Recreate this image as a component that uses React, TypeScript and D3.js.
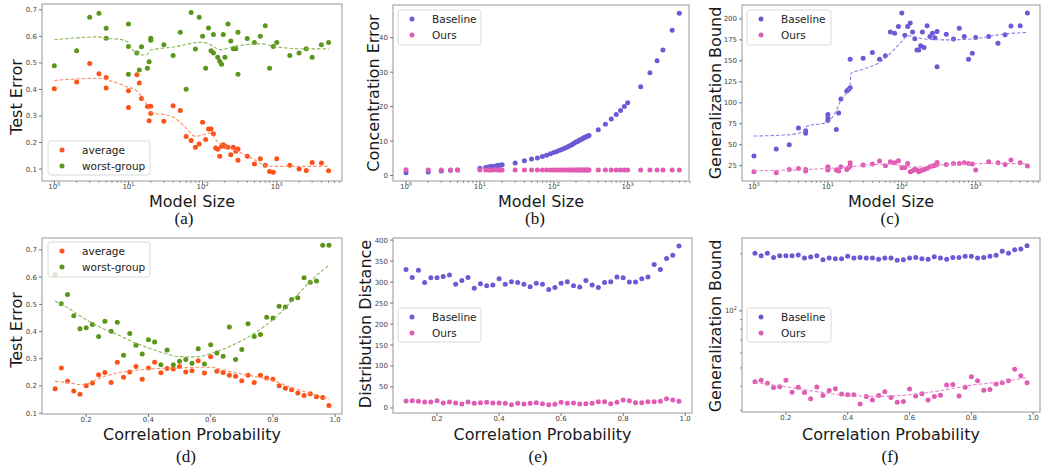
import React from 'react';
import * as d3 from 'd3';

const ORANGE = '#fc521a';
const GREEN = '#5a961a';
const BLUE = '#6a5ad6';
const PINK = '#e05cb4';
const ORANGE_LINE = '#ff8c5e';
const GREEN_LINE = '#86b651';
const BLUE_LINE = '#8c7ee6';
const PINK_LINE = '#e884c8';

const modelSizeTicks = [1, 10, 100, 1000];
const probTicks = [0.2, 0.4, 0.6, 0.8, 1.0];

// (a) test error vs model size
const aAvgX = [1, 2, 3, 4, 5, 5, 10, 10, 13, 14, 15, 18, 19, 20, 20, 30, 40, 50, 60, 70, 80, 90, 100, 110, 120, 130, 140, 150, 160, 170, 180, 190, 200, 220, 240, 260, 280, 300, 300, 400, 500, 600, 700, 800, 900, 1000, 1500, 2000, 2500, 3000, 4000, 5000];
const aAvgY = [0.403, 0.428, 0.498, 0.459, 0.445, 0.405, 0.395, 0.332, 0.455, 0.424, 0.366, 0.336, 0.282, 0.337, 0.309, 0.280, 0.339, 0.321, 0.223, 0.208, 0.182, 0.194, 0.276, 0.211, 0.251, 0.251, 0.233, 0.179, 0.175, 0.148, 0.186, 0.192, 0.186, 0.182, 0.154, 0.182, 0.167, 0.176, 0.133, 0.148, 0.119, 0.139, 0.114, 0.091, 0.088, 0.139, 0.114, 0.100, 0.095, 0.125, 0.123, 0.094];
const aWorstX = [1, 2, 3, 4, 5, 5, 10, 10, 10, 13, 14, 15, 18, 19, 20, 20, 30, 40, 50, 60, 70, 80, 90, 100, 110, 120, 130, 140, 140, 160, 170, 180, 190, 200, 220, 240, 260, 280, 300, 300, 400, 500, 600, 700, 800, 900, 1000, 1500, 2000, 2500, 3000, 4000, 5000];
const aWorstY = [0.489, 0.546, 0.672, 0.687, 0.631, 0.593, 0.647, 0.562, 0.457, 0.537, 0.473, 0.561, 0.480, 0.504, 0.593, 0.585, 0.568, 0.528, 0.616, 0.401, 0.690, 0.552, 0.672, 0.600, 0.480, 0.632, 0.546, 0.607, 0.537, 0.521, 0.506, 0.495, 0.607, 0.521, 0.647, 0.583, 0.553, 0.553, 0.616, 0.457, 0.592, 0.577, 0.600, 0.640, 0.480, 0.562, 0.577, 0.528, 0.537, 0.553, 0.521, 0.568, 0.577];
const aAvgTrendX = [1, 4, 5, 7, 10, 12, 15, 18, 20, 30, 40, 60, 80, 100, 130, 150, 200, 300, 500, 700, 1000, 5000];
const aAvgTrendY = [0.434, 0.442, 0.437, 0.424, 0.408, 0.401, 0.374, 0.339, 0.314, 0.305, 0.296, 0.255, 0.223, 0.229, 0.236, 0.211, 0.186, 0.167, 0.135, 0.114, 0.110, 0.110];
const aWorstTrendX = [1, 4, 5, 7, 10, 11, 13, 15, 18, 20, 40, 100, 130, 170, 300, 600, 1000, 2500, 5000];
const aWorstTrendY = [0.587, 0.598, 0.592, 0.590, 0.578, 0.555, 0.537, 0.530, 0.532, 0.548, 0.560, 0.578, 0.567, 0.550, 0.565, 0.572, 0.560, 0.553, 0.553];

// (b) concentration error vs model size
const bSizes = [1, 2, 3, 4, 5, 10, 12, 13, 14, 15, 17, 18, 19, 20, 30, 40, 50, 60, 70, 80, 90, 100, 110, 120, 130, 140, 150, 160, 170, 180, 190, 200, 210, 220, 230, 240, 250, 260, 270, 280, 290, 300, 400, 500, 600, 700, 800, 900, 1000, 1500, 2000, 2500, 3000, 4000, 5000];
const bBaseline = [0.8, 1.0, 1.3, 1.5, 1.6, 2.1, 2.3, 2.5, 2.6, 2.7, 2.9, 3.0, 3.0, 3.1, 3.6, 4.3, 4.8, 5.1, 5.5, 5.9, 6.3, 6.7, 7.0, 7.3, 7.6, 7.9, 8.2, 8.5, 8.8, 9.1, 9.4, 9.7, 9.9, 10.2, 10.4, 10.6, 10.8, 11.0, 11.2, 11.35, 11.5, 11.6, 13.3, 14.9, 16.4, 17.7, 18.9, 20.0, 21.1, 25.8, 29.8, 33.3, 36.4, 42.2, 47.1];
const bOurs = [1.7, 1.6, 1.6, 1.6, 1.6, 1.6, 1.6, 1.6, 1.6, 1.6, 1.6, 1.6, 1.6, 1.6, 1.6, 1.6, 1.6, 1.6, 1.6, 1.6, 1.6, 1.6, 1.6, 1.6, 1.6, 1.6, 1.6, 1.6, 1.6, 1.6, 1.6, 1.6, 1.6, 1.6, 1.6, 1.6, 1.6, 1.6, 1.6, 1.6, 1.6, 1.6, 1.6, 1.6, 1.6, 1.6, 1.6, 1.6, 1.6, 1.6, 1.6, 1.6, 1.6, 1.6, 1.6];

// (c) generalization bound vs model size
const cSizes = [1, 2, 3, 4, 5, 5, 10, 10, 10, 13, 14, 15, 18, 19, 20, 20, 30, 40, 50, 60, 70, 80, 90, 100, 110, 120, 130, 140, 150, 160, 170, 180, 190, 200, 220, 240, 260, 280, 300, 300, 400, 500, 600, 700, 800, 900, 1000, 1500, 2000, 2500, 3000, 4000, 5000];
const cBaseline = [36.5, 45, 50, 70, 66.6, 63.6, 86, 82, 79, 68.3, 87.8, 104.5, 114, 116, 118, 152, 153, 160, 152, 156, 184.5, 183, 191, 207, 180.5, 191, 195, 184.5, 176.5, 163, 163, 168, 184.5, 166, 192, 179, 183, 177.7, 185, 143, 181.7, 176, 189, 179, 152, 159, 178, 179, 171, 181, 191.6, 192, 207];
const cOurs = [17.8, 16.6, 20.6, 21.8, 20.6, 18.6, 23.8, 19.8, 21.5, 19.8, 18.6, 23.8, 20.6, 22.6, 24.6, 28.6, 25.8, 27, 30.5, 25, 29.8, 28.6, 31, 22.6, 23, 27.8, 17.8, 19, 21, 19.8, 17.8, 19, 19.8, 20.6, 21.8, 23.8, 24.6, 25.4, 26.6, 29, 26.6, 27.8, 27.8, 28.6, 27.8, 27, 19.8, 29.8, 28.6, 26.6, 31.7, 28.6, 24.6];
const cBaseTrendX = [1, 3, 4.8, 5.2, 10, 13, 15, 18, 19.9, 20.5, 30, 50, 100, 120, 200, 400, 1000, 2000, 5000];
const cBaseTrendY = [60.4, 62, 66, 72, 77, 91, 103, 112, 119, 135, 140, 148, 173, 180, 176, 175, 176.5, 181, 184];
const cOursTrendX = [1, 10, 20, 50, 100, 130, 200, 400, 1000, 2000, 5000];
const cOursTrendY = [19, 21.8, 23.8, 26.6, 25.5, 23.5, 23.8, 26.6, 27.4, 27.8, 27];

// (d)-(f) vs correlation probability
const corrProb = [0.10, 0.12, 0.14, 0.16, 0.18, 0.20, 0.22, 0.24, 0.26, 0.28, 0.30, 0.32, 0.34, 0.36, 0.38, 0.40, 0.42, 0.44, 0.46, 0.48, 0.50, 0.52, 0.54, 0.56, 0.58, 0.60, 0.62, 0.64, 0.66, 0.68, 0.70, 0.72, 0.74, 0.76, 0.78, 0.80, 0.82, 0.84, 0.86, 0.88, 0.90, 0.92, 0.94, 0.96, 0.98];
const dAvg = [0.190, 0.266, 0.217, 0.182, 0.170, 0.201, 0.211, 0.241, 0.250, 0.213, 0.287, 0.232, 0.251, 0.272, 0.225, 0.266, 0.287, 0.249, 0.264, 0.262, 0.272, 0.251, 0.256, 0.293, 0.248, 0.307, 0.254, 0.250, 0.239, 0.236, 0.219, 0.239, 0.213, 0.239, 0.229, 0.225, 0.201, 0.192, 0.186, 0.174, 0.165, 0.171, 0.160, 0.158, 0.128];
const dWorst = [0.610, 0.502, 0.536, 0.458, 0.410, 0.414, 0.426, 0.382, 0.438, 0.401, 0.434, 0.313, 0.393, 0.350, 0.318, 0.370, 0.362, 0.278, 0.332, 0.278, 0.291, 0.297, 0.284, 0.337, 0.281, 0.352, 0.321, 0.309, 0.417, 0.297, 0.334, 0.429, 0.382, 0.389, 0.453, 0.450, 0.493, 0.490, 0.518, 0.524, 0.598, 0.581, 0.586, 0.717, 0.717];
const dTrendX = [0.10, 0.15, 0.18, 0.20, 0.25, 0.30, 0.35, 0.40, 0.45, 0.50, 0.55, 0.60, 0.65, 0.70, 0.75, 0.80, 0.85, 0.90, 0.95, 0.98];
const dAvgTrend = [0.217, 0.211, 0.205, 0.207, 0.232, 0.248, 0.256, 0.262, 0.265, 0.266, 0.269, 0.269, 0.256, 0.244, 0.233, 0.220, 0.198, 0.180, 0.161, 0.149];
const dWorstTrend = [0.512, 0.481, 0.458, 0.444, 0.413, 0.389, 0.362, 0.340, 0.321, 0.308, 0.307, 0.319, 0.340, 0.367, 0.401, 0.444, 0.500, 0.561, 0.616, 0.643];

const eBaseline = [330, 311, 328, 299, 310, 310, 313, 317, 295, 304, 311, 285, 296, 291, 293, 308, 295, 301, 299, 295, 289, 297, 295, 282, 287, 297, 301, 291, 288, 304, 293, 287, 299, 301, 312, 310, 300, 300, 308, 312, 342, 330, 356, 364, 386];
const eOurs = [16.6, 17.4, 15.8, 14.2, 14.2, 17.4, 11.8, 14.2, 11.8, 9.5, 14.2, 11.0, 12.6, 13.4, 11.8, 11.8, 11.0, 7.9, 11.0, 9.5, 11.0, 12.6, 10.3, 7.9, 8.7, 13.4, 11.0, 11.8, 9.5, 10.3, 11.0, 15.0, 15.0, 10.3, 13.4, 18.9, 17.4, 12.6, 12.6, 15.0, 15.0, 15.8, 22.1, 18.9, 15.8];

const fBaseline = [201, 195, 201, 191, 195, 195, 195, 197, 190, 192, 195, 186, 190, 188, 188, 194, 190, 191, 190, 190, 187, 190, 190, 185, 186, 190, 191, 188, 187, 193, 190, 187, 191, 191, 194, 194, 190, 191, 194, 196, 206, 201, 210, 212, 220];
const fOurs = [42.3, 43.1, 41.5, 39.4, 39.8, 43.1, 37.2, 39.6, 37.1, 34.4, 39.7, 35.8, 38.0, 38.9, 36.5, 36.1, 36.1, 32.3, 35.4, 33.9, 35.8, 37.5, 34.9, 33.0, 33.3, 38.7, 35.6, 36.6, 33.9, 35.4, 35.9, 40.6, 40.9, 35.6, 39.6, 44.9, 42.8, 38.2, 38.5, 41.1, 41.8, 42.8, 49.2, 45.5, 41.8];
const fTrendX = [0.10, 0.20, 0.30, 0.40, 0.50, 0.60, 0.70, 0.80, 0.90, 0.98];
const fOursTrend = [41.8, 39.8, 37.5, 35.8, 35.4, 36.1, 38.0, 40.6, 42.3, 44.5];

const FONT = "'DejaVu Sans', sans-serif";
const SERIF = "'Liberation Serif', 'DejaVu Serif', serif";

type Series = { x: number[]; y: number[]; color: string; kind: 'dots' | 'trend' };
type LegendItem = { label: string; color: string };
type PanelCfg = {
  box: { l: number; r: number; t: number; b: number };
  xLog: boolean;
  xDomain: [number, number];
  yLog?: boolean;
  yDomain: [number, number];
  xTicks: number[];
  yTicks: number[];
  yMinor?: number[];
  yFmt: (v: number) => string;
  xLabel: string;
  xLabelY: number;
  yLabel: string;
  yLabelAt: [number, number];
  caption: string;
  captionAt: [number, number];
  series: Series[];
  legend: { x: number; y: number; w: number; h: number; items: LegendItem[] };
};

function pow10(e: number) {
  return Math.pow(10, e);
}

function Panel({ cfg }: { cfg: PanelCfg }) {
  const { box } = cfg;
  const x = cfg.xLog
    ? d3.scaleLog().domain(cfg.xDomain).range([box.l, box.r])
    : d3.scaleLinear().domain(cfg.xDomain).range([box.l, box.r]);
  const y = cfg.yLog
    ? d3.scaleLog().domain(cfg.yDomain).range([box.b, box.t])
    : d3.scaleLinear().domain(cfg.yDomain).range([box.b, box.t]);
  const line = d3
    .line<[number, number]>()
    .x((d) => x(d[0]))
    .y((d) => y(d[1]))
    .curve(d3.curveMonotoneX);
  const cx = (box.l + box.r) / 2;
  const tickColor = '#555';
  const labelColor = '#444';

  return (
    <g>
      {cfg.series
        .filter((s) => s.kind === 'dots')
        .map((s, si) => (
          <g key={'d' + si} fill={s.color}>
            {s.x.map((xv, i) => (
              <circle key={i} cx={x(xv)} cy={y(s.y[i])} r={2.5} />
            ))}
          </g>
        ))}
      {cfg.series
        .filter((s) => s.kind === 'trend')
        .map((s, si) => (
          <path
            key={'t' + si}
            d={line(s.x.map((xv, i) => [xv, s.y[i]] as [number, number])) || ''}
            fill="none"
            stroke={s.color}
            strokeWidth={1.1}
            strokeDasharray="3.5,2"
          />
        ))}
      <rect x={box.l} y={box.t} width={box.r - box.l} height={box.b - box.t} fill="none" stroke="#a8a8a8" strokeWidth={1.2} />
      {cfg.xTicks.map((t) => (
        <g key={'xt' + t}>
          <line x1={x(t)} x2={x(t)} y1={box.b} y2={box.b + 3} stroke={tickColor} strokeWidth={0.8} />
          {cfg.xLog ? (
            <text x={x(t)} y={box.b + 8} fontSize={7} fill={labelColor} textAnchor="middle" fontFamily={FONT}>
              10
              <tspan dy={-3} fontSize={5}>
                {Math.round(Math.log10(t))}
              </tspan>
            </text>
          ) : (
            <text x={x(t)} y={box.b + 7.5} fontSize={7} fill={labelColor} textAnchor="middle" fontFamily={FONT}>
              {d3.format('.1f')(t)}
            </text>
          )}
        </g>
      ))}
      {cfg.xLog &&
        [2, 3, 4, 5, 6, 7, 8, 9, 20, 30, 40, 50, 60, 70, 80, 90, 200, 300, 400, 500, 600, 700, 800, 900, 2000, 3000, 4000, 5000, 6000, 7000].map((t) => (
          <line key={'xm' + t} x1={x(t)} x2={x(t)} y1={box.b} y2={box.b + 2} stroke={tickColor} strokeWidth={0.6} />
        ))}
      {cfg.yTicks.map((t) => (
        <g key={'yt' + t}>
          <line x1={box.l - 3} x2={box.l} y1={y(t)} y2={y(t)} stroke={tickColor} strokeWidth={0.8} />
          {cfg.yLog ? (
            <text x={box.l - 5} y={y(t) + 2.5} fontSize={7} fill={labelColor} textAnchor="end" fontFamily={FONT}>
              10
              <tspan dy={-3} fontSize={5}>
                {Math.round(Math.log10(t))}
              </tspan>
            </text>
          ) : (
            <text x={box.l - 5} y={y(t) + 2.5} fontSize={7} fill={labelColor} textAnchor="end" fontFamily={FONT}>
              {cfg.yFmt(t)}
            </text>
          )}
        </g>
      ))}
      {(cfg.yMinor || []).map((t) => (
        <line key={'ym' + t} x1={box.l - 2} x2={box.l} y1={y(t)} y2={y(t)} stroke={tickColor} strokeWidth={0.6} />
      ))}
      <text x={cx} y={cfg.xLabelY} fontSize={16} fill="#1a1a1a" textAnchor="middle" fontFamily={FONT}>
        {cfg.xLabel}
      </text>
      <text
        transform={`translate(${cfg.yLabelAt[0]},${cfg.yLabelAt[1]}) rotate(-90)`}
        fontSize={16}
        fill="#1a1a1a"
        textAnchor="middle"
        fontFamily={FONT}
      >
        {cfg.yLabel}
      </text>
      <text x={cfg.captionAt[0]} y={cfg.captionAt[1]} fontSize={17} fill="#111" textAnchor="middle" fontFamily={SERIF}>
        {cfg.caption}
      </text>
      <g>
        <rect
          x={cfg.legend.x}
          y={cfg.legend.y}
          width={cfg.legend.w}
          height={cfg.legend.h}
          rx={2.5}
          fill="#fff"
          fillOpacity={0.8}
          stroke="#d0d0d0"
          strokeWidth={0.8}
        />
        {cfg.legend.items.map((it, i) => (
          <g key={it.label}>
            <circle cx={cfg.legend.x + 14} cy={cfg.legend.y + 9 + i * 16} r={2.5} fill={it.color} />
            <text x={cfg.legend.x + 34} y={cfg.legend.y + 12.5 + i * 16} fontSize={10.5} fill="#222" fontFamily={FONT}>
              {it.label}
            </text>
          </g>
        ))}
      </g>
    </g>
  );
}

const fmt1 = (v: number) => d3.format('.1f')(v);
const fmt0 = (v: number) => d3.format('d')(v);

const panels: PanelCfg[] = [
  {
    box: { l: 42, r: 342, t: 4, b: 181 },
    xLog: true,
    xDomain: [pow10(-0.166), pow10(3.88)],
    yDomain: [0.055, 0.722],
    xTicks: modelSizeTicks,
    yTicks: [0.1, 0.2, 0.3, 0.4, 0.5, 0.6, 0.7],
    yFmt: fmt1,
    xLabel: 'Model Size',
    xLabelY: 206.5,
    yLabel: 'Test Error',
    yLabelAt: [22, 97],
    caption: '(a)',
    captionAt: [184, 224],
    series: [
      { x: aAvgX, y: aAvgY, color: ORANGE, kind: 'dots' },
      { x: aWorstX, y: aWorstY, color: GREEN, kind: 'dots' },
      { x: aAvgTrendX, y: aAvgTrendY, color: ORANGE_LINE, kind: 'trend' },
      { x: aWorstTrendX, y: aWorstTrendY, color: GREEN_LINE, kind: 'trend' },
    ],
    legend: { x: 48, y: 141, w: 102, h: 34, items: [{ label: 'average', color: ORANGE }, { label: 'worst-group', color: GREEN }] },
  },
  {
    box: { l: 393, r: 689, t: 5, b: 181 },
    xLog: true,
    xDomain: [pow10(-0.176), pow10(3.83)],
    yDomain: [-1.6, 49.5],
    xTicks: modelSizeTicks,
    yTicks: [0, 10, 20, 30, 40],
    yFmt: fmt0,
    xLabel: 'Model Size',
    xLabelY: 206.5,
    yLabel: 'Concentration Error',
    yLabelAt: [379, 93],
    caption: '(b)',
    captionAt: [535, 224],
    series: [
      { x: bSizes, y: bBaseline, color: BLUE, kind: 'dots' },
      { x: bSizes, y: bOurs, color: PINK, kind: 'dots' },
    ],
    legend: { x: 398, y: 10, w: 83, h: 35, items: [{ label: 'Baseline', color: BLUE }, { label: 'Ours', color: PINK }] },
  },
  {
    box: { l: 742, r: 1040, t: 5, b: 181 },
    xLog: true,
    xDomain: [pow10(-0.162), pow10(3.87)],
    yDomain: [6.8, 216.6],
    xTicks: modelSizeTicks,
    yTicks: [25, 50, 75, 100, 125, 150, 175, 200],
    yFmt: fmt0,
    xLabel: 'Model Size',
    xLabelY: 206.5,
    yLabel: 'Generalization Bound',
    yLabelAt: [721, 93],
    caption: '(c)',
    captionAt: [890, 224],
    series: [
      { x: cSizes, y: cBaseline, color: BLUE, kind: 'dots' },
      { x: cSizes, y: cOurs, color: PINK, kind: 'dots' },
      { x: cBaseTrendX, y: cBaseTrendY, color: BLUE_LINE, kind: 'trend' },
      { x: cOursTrendX, y: cOursTrendY, color: PINK_LINE, kind: 'trend' },
    ],
    legend: { x: 747, y: 10, w: 84, h: 35, items: [{ label: 'Baseline', color: BLUE }, { label: 'Ours', color: PINK }] },
  },
  {
    box: { l: 42, r: 342, t: 238, b: 414 },
    xLog: false,
    xDomain: [0.058, 1.022],
    yDomain: [0.097, 0.744],
    xTicks: probTicks,
    yTicks: [0.1, 0.2, 0.3, 0.4, 0.5, 0.6, 0.7],
    yFmt: fmt1,
    xLabel: 'Correlation Probability',
    xLabelY: 439.5,
    yLabel: 'Test Error',
    yLabelAt: [22, 330],
    caption: '(d)',
    captionAt: [186, 462],
    series: [
      { x: corrProb, y: dAvg, color: ORANGE, kind: 'dots' },
      { x: corrProb, y: dWorst, color: GREEN, kind: 'dots' },
      { x: dTrendX, y: dAvgTrend, color: ORANGE_LINE, kind: 'trend' },
      { x: dTrendX, y: dWorstTrend, color: GREEN_LINE, kind: 'trend' },
    ],
    legend: { x: 48, y: 242, w: 102, h: 35, items: [{ label: 'average', color: ORANGE }, { label: 'worst-group', color: GREEN }] },
  },
  {
    box: { l: 393, r: 692, t: 238, b: 413 },
    xLog: false,
    xDomain: [0.058, 1.022],
    yDomain: [-12, 405],
    xTicks: probTicks,
    yTicks: [0, 50, 100, 150, 200, 250, 300, 350, 400],
    yFmt: fmt0,
    xLabel: 'Correlation Probability',
    xLabelY: 439.5,
    yLabel: 'Distribution Distance',
    yLabelAt: [371, 324],
    caption: '(e)',
    captionAt: [538, 462],
    series: [
      { x: corrProb, y: eBaseline, color: BLUE, kind: 'dots' },
      { x: corrProb, y: eOurs, color: PINK, kind: 'dots' },
    ],
    legend: { x: 398, y: 308, w: 83, h: 34, items: [{ label: 'Baseline', color: BLUE }, { label: 'Ours', color: PINK }] },
  },
  {
    box: { l: 742, r: 1040, t: 238, b: 412 },
    xLog: false,
    xDomain: [0.058, 1.022],
    yLog: true,
    yDomain: [29.3, 242],
    xTicks: probTicks,
    yTicks: [100],
    yMinor: [30, 40, 50, 60, 70, 80, 90, 200],
    yFmt: fmt0,
    xLabel: 'Correlation Probability',
    xLabelY: 439.5,
    yLabel: 'Generalization Bound',
    yLabelAt: [721, 326],
    caption: '(f)',
    captionAt: [890, 462],
    series: [
      { x: corrProb, y: fBaseline, color: BLUE, kind: 'dots' },
      { x: corrProb, y: fOurs, color: PINK, kind: 'dots' },
      { x: fTrendX, y: fOursTrend, color: PINK_LINE, kind: 'trend' },
    ],
    legend: { x: 747, y: 308, w: 84, h: 34, items: [{ label: 'Baseline', color: BLUE }, { label: 'Ours', color: PINK }] },
  },
];

export default function App() {
  return (
    <div style={{ position: 'absolute', left: 0, top: 0, width: 1041, height: 469, background: '#fff' }}>
      <svg width={1041} height={469} style={{ display: 'block' }}>
        <rect width={1041} height={469} fill="#fff" />
        {panels.map((p, i) => (
          <Panel key={i} cfg={p} />
        ))}
      </svg>
    </div>
  );
}
